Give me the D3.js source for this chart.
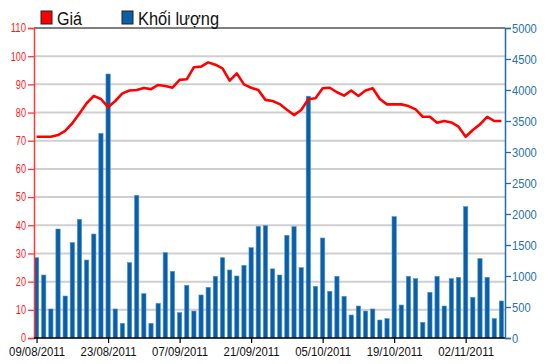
<!DOCTYPE html>
<html>
<head>
<meta charset="utf-8">
<script src="https://cdn.jsdelivr.net/npm/d3@7"></script>
<style>
  html, body { margin: 0; padding: 0; background: #fff; }
  svg { display: block; }
  .lbl { font-family: "Liberation Sans", Arial, sans-serif; }
</style>
</head>
<body>
<div id="chart"></div>
<script>
// trading days (HOSE, 02/09 holiday skipped)
const dates = [
  '09/08/2011','10/08/2011','11/08/2011','12/08/2011','15/08/2011','16/08/2011','17/08/2011','18/08/2011','19/08/2011','22/08/2011',
  '23/08/2011','24/08/2011','25/08/2011','26/08/2011','29/08/2011','30/08/2011','31/08/2011','01/09/2011','05/09/2011','06/09/2011',
  '07/09/2011','08/09/2011','09/09/2011','12/09/2011','13/09/2011','14/09/2011','15/09/2011','16/09/2011','19/09/2011','20/09/2011',
  '21/09/2011','22/09/2011','23/09/2011','26/09/2011','27/09/2011','28/09/2011','29/09/2011','30/09/2011','03/10/2011','04/10/2011',
  '05/10/2011','06/10/2011','07/10/2011','10/10/2011','11/10/2011','12/10/2011','13/10/2011','14/10/2011','17/10/2011','18/10/2011',
  '19/10/2011','20/10/2011','21/10/2011','24/10/2011','25/10/2011','26/10/2011','27/10/2011','28/10/2011','31/10/2011','01/11/2011',
  '02/11/2011','03/11/2011','04/11/2011','07/11/2011','08/11/2011','09/11/2011'
];

const price = [
  71.4, 71.4, 71.4, 72.0, 73.5, 76.2, 79.7, 83.3, 85.9, 84.8,
  81.9, 84.1, 86.8, 87.8, 88.0, 88.7, 88.3, 89.8, 89.4, 88.8,
  91.6, 91.8, 96.1, 96.3, 97.8, 97.0, 95.7, 91.3, 93.9, 90.0,
  88.8, 88.0, 84.5, 84.1, 83.0, 81.0, 79.1, 80.9, 84.7, 85.1,
  88.6, 88.8, 87.2, 86.0, 87.8, 85.9, 87.8, 88.6, 84.8, 82.9,
  82.9, 82.9, 82.3, 81.1, 78.5, 78.5, 76.4, 77.0, 76.5, 75.0,
  71.4, 73.8, 75.8, 78.5, 77.0, 77.0
];

const volume = [
  1295, 1016, 468, 1758, 677, 1538, 1914, 1258, 1677, 3300,
  4258, 468, 237, 1215, 2301, 715, 237, 559, 1376, 1075,
  409, 849, 435, 694, 817, 995, 1295, 1097, 1000, 1172,
  1457, 1801, 1812, 1115, 1016, 1656, 1796, 1134, 3900, 833,
  1613, 753, 995, 672, 371, 516, 435, 468, 290, 312,
  1957, 532, 995, 957, 253, 737, 995, 516, 957, 979,
  2118, 656, 1280, 979, 312, 597
];

const xTickLabels = ['09/08/2011', '23/08/2011', '07/09/2011', '21/09/2011', '05/10/2011', '19/10/2011', '02/11/2011'];
const priceTicks = [0, 10, 20, 30, 40, 50, 60, 70, 80, 90, 100, 110];
const volumeTicks = [0, 500, 1000, 1500, 2000, 2500, 3000, 3500, 4000, 4500, 5000];
const legendItems = [
  { name: 'Giá', color: '#ff0000' },
  { name: 'Khối lượng', color: '#0a5fa6' }
];

const width = 550, height = 364;
const plotLeft = 34, plotRight = 505, plotTop = 28, plotBottom = 338;

const redAxis = '#ff3838', blueAxis = '#1f6eac';

// the original font is a narrow one; squeeze the labels to the same width
const squeeze = (sel, perChar) => sel
  .attr('textLength', function () { return this.textContent.length * perChar; })
  .attr('lengthAdjust', 'spacingAndGlyphs');

const svg = d3.select('#chart').append('svg')
  .attr('width', width).attr('height', height);

const x = d3.scaleBand()
  .domain(dates)
  .range([plotLeft - 1, plotRight])
  .paddingInner(0.4)
  .paddingOuter(0.2);

const yPrice = d3.scaleLinear().domain([0, 110]).range([plotBottom, plotTop]);
const yVol = d3.scaleLinear().domain([0, 5000]).range([plotBottom, plotTop]);

// grid lines
svg.append('g')
  .selectAll('line')
  .data(priceTicks.slice(1, -1))
  .join('line')
    .attr('x1', plotLeft).attr('x2', plotRight)
    .attr('y1', d => yPrice(d)).attr('y2', d => yPrice(d))
    .attr('stroke', '#cfcfcf').attr('stroke-width', 2);

// volume bars
svg.append('g')
  .selectAll('rect')
  .data(volume)
  .join('rect')
    .attr('x', (d, i) => x(dates[i]))
    .attr('y', d => yVol(d))
    .attr('width', x.bandwidth())
    .attr('height', d => plotBottom - yVol(d))
    .attr('fill', '#0a5fa6')
    .attr('stroke', '#4f95d4')
    .attr('stroke-width', 0.6);

// price line
const line = d3.line()
  .x((d, i) => x(dates[i]) + x.bandwidth() / 2)
  .y(d => yPrice(d));

svg.append('path')
  .datum(price)
  .attr('d', line)
  .attr('fill', 'none')
  .attr('stroke', '#ff0000')
  .attr('stroke-width', 2.6)
  .attr('stroke-linejoin', 'round');

// frame top
svg.append('line')
  .attr('x1', plotLeft).attr('x2', plotRight)
  .attr('y1', plotTop).attr('y2', plotTop)
  .attr('stroke', '#000').attr('stroke-width', 1.2);

// left axis
const leftAxis = svg.append('g')
  .attr('transform', `translate(${plotLeft},0)`)
  .call(d3.axisLeft(yPrice).tickValues(priceTicks).tickSize(6).tickPadding(2));
leftAxis.select('.domain').attr('stroke', redAxis).attr('stroke-width', 1.5);
leftAxis.selectAll('.tick line').attr('stroke', redAxis).attr('stroke-width', 1.3);
leftAxis.selectAll('.tick text')
  .attr('class', 'lbl')
  .attr('fill', '#ff1a1a')
  .style('font-size', '12px')
  .call(squeeze, 5.1);

// right axis
const rightAxis = svg.append('g')
  .attr('transform', `translate(${plotRight},0)`)
  .call(d3.axisRight(yVol).tickValues(volumeTicks).tickFormat(d3.format('d')).tickSize(6).tickPadding(1));
rightAxis.select('.domain').attr('stroke', blueAxis).attr('stroke-width', 1.5);
rightAxis.selectAll('.tick line').attr('stroke', blueAxis).attr('stroke-width', 1.3);
rightAxis.selectAll('.tick text')
  .attr('class', 'lbl')
  .attr('fill', '#2a72ad')
  .style('font-size', '12.5px')
  .call(squeeze, 6.2);

// bottom axis
const xCenter = d3.scalePoint()
  .domain(dates)
  .range([x(dates[0]) + x.bandwidth() / 2, x(dates[dates.length - 1]) + x.bandwidth() / 2]);

const bottomAxis = svg.append('g')
  .attr('transform', `translate(0,${plotBottom})`)
  .call(d3.axisBottom(xCenter).tickValues(xTickLabels).tickSize(5).tickPadding(4));
bottomAxis.select('.domain')
  .attr('d', `M${plotLeft},0H${plotRight}`)
  .attr('stroke', '#000').attr('stroke-width', 1.5);
bottomAxis.selectAll('.tick line').attr('stroke', '#000').attr('stroke-width', 1.2);
bottomAxis.selectAll('.tick text')
  .attr('class', 'lbl')
  .attr('fill', '#111')
  .style('font-size', '12.5px')
  .call(squeeze, 5.6);

// legend
const legend = svg.append('g')
  .selectAll('g')
  .data(legendItems)
  .join('g')
    .attr('transform', (d, i) => `translate(${[41, 122][i]},0)`);

legend.append('rect')
  .attr('x', 0).attr('y', 11)
  .attr('width', 11).attr('height', 13)
  .attr('fill', d => d.color)
  .attr('stroke', '#222').attr('stroke-width', 1);

legend.append('text')
  .attr('class', 'lbl')
  .attr('x', 16).attr('y', 25)
  .attr('fill', '#111')
  .style('font-size', '18px')
  .attr('textLength', (d, i) => [25, 81][i])
  .attr('lengthAdjust', 'spacingAndGlyphs')
  .text(d => d.name);
</script>
</body>
</html>
